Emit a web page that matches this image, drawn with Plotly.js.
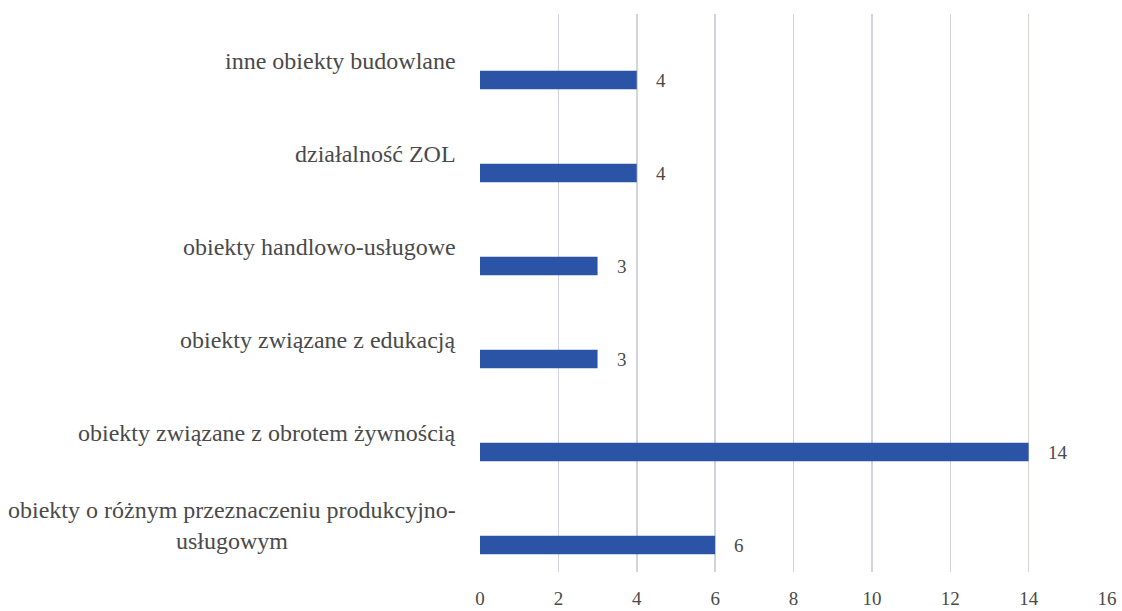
<!DOCTYPE html>
<html>
<head>
<meta charset="utf-8">
<script src="https://cdn.plot.ly/plotly-3.0.1.min.js"></script>
<style>html,body{margin:0;padding:0;background:#fff;}#chart{width:1122px;height:611px;}</style>
</head>
<body>
<div id="chart"></div>
<script>
const categories = [
  "inne obiekty budowlane",
  "działalność ZOL",
  "obiekty handlowo-usługowe",
  "obiekty związane z edukacją",
  "obiekty związane z obrotem żywnością",
  "obiekty o różnym przeznaczeniu produkcyjno-<br>usługowym"
];
const values = [4, 4, 3, 3, 14, 6];
const xTicks = [0, 2, 4, 6, 8, 10, 12, 14, 16];

const barColor = "#2c54a6";
const textColor = "#4a4a4a";
const serif = "'Liberation Serif', 'DejaVu Serif', serif";

const trace = {
  type: "bar",
  orientation: "h",
  x: values,
  y: categories,
  width: 0.2,
  offset: 0.11,
  marker: {color: barColor, line: {width: 0}},
  hoverinfo: "skip"
};

const annotations = [];
categories.forEach((c, i) => {
  annotations.push({
    xref: "paper", yref: "y", x: 0, y: i, xanchor: "right", yanchor: "middle",
    xshift: -22, text: c, showarrow: false, align: "center",
    font: {family: serif, size: 24, color: textColor}
  });
  annotations.push({
    xref: "x", yref: "y", x: values[i], y: i + 0.21, xanchor: "left", yanchor: "middle",
    xshift: 17, text: String(values[i]), showarrow: false,
    font: {family: serif, size: 19, color: textColor}
  });
});

const layout = {
  width: 1122, height: 611,
  margin: {l: 480, r: 15, t: 14, b: 39},
  paper_bgcolor: "#ffffff", plot_bgcolor: "#ffffff",
  showlegend: false,
  font: {family: serif},
  xaxis: {
    range: [0, 16], tickvals: xTicks, ticktext: xTicks.map(String),
    showgrid: true, gridcolor: "#d3d3df", gridwidth: 1.5,
    zeroline: false, showline: false, ticks: "",
    ticklabelstandoff: 13,
    tickfont: {family: serif, size: 19, color: textColor},
    fixedrange: true
  },
  yaxis: {
    type: "category", range: [5.5, -0.5],
    showgrid: false, zeroline: false, showline: false, ticks: "",
    showticklabels: false, fixedrange: true
  },
  annotations: annotations
};

Plotly.newPlot("chart", [trace], layout, {staticPlot: true, displayModeBar: false});
</script>
</body>
</html>
